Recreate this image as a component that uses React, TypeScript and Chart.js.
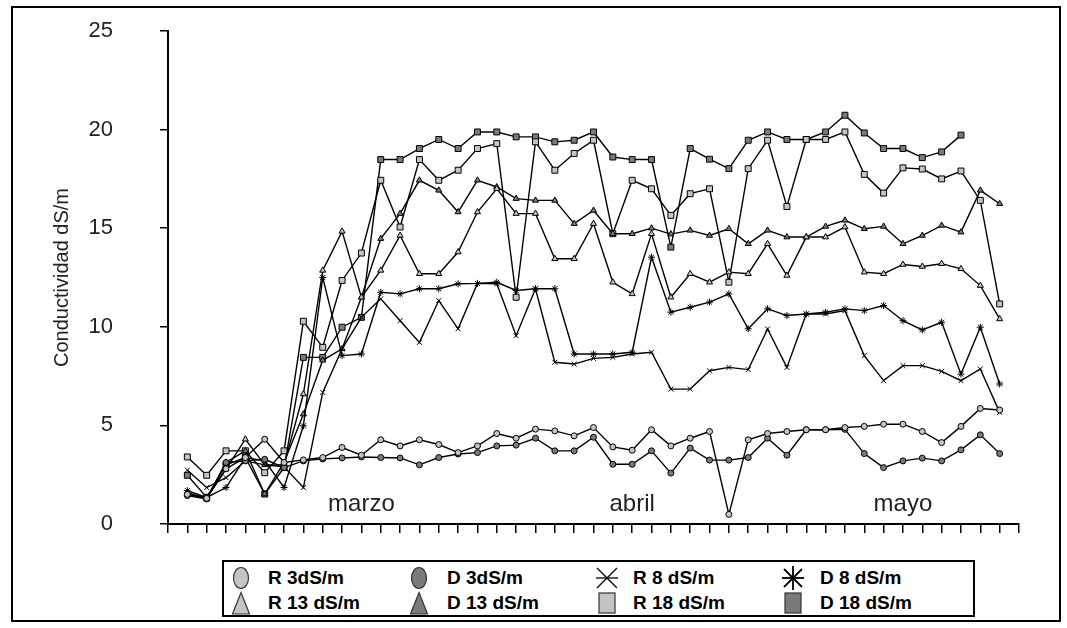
import React, { useEffect, useRef } from 'react';
import { Chart, registerables } from 'chart.js';

Chart.register(...registerables);

const FONT = "'Liberation Sans', Arial, sans-serif";

const monthNames = ['marzo', 'abril', 'mayo'];
const monthCategoryIndex = [10, 24, 38];
const sampleCount = 43;

const seriesNames = ['R 3dS/m', 'D 3dS/m', 'R 8 dS/m', 'D 8 dS/m', 'R 13 dS/m', 'D 13 dS/m', 'R 18 dS/m', 'D 18 dS/m'];

const r3 = [1.5, 1.3, 2.8, 3.37, 4.3, 3.12, 3.25, 3.37, 3.88, 3.49, 4.27, 3.96, 4.27, 4.03, 3.62, 3.96, 4.59, 4.35, 4.81, 4.72, 4.47, 4.89, 3.91, 3.74, 4.78, 3.96, 4.35, 4.69, 0.49, 4.27, 4.59, 4.69, 4.78, 4.78, 4.89, 4.95, 5.06, 5.06, 4.69, 4.13, 4.95, 5.86, 5.78];
const d3 = [1.44, 1.27, 3.12, 3.2, 3.28, 2.86, 3.2, 3.3, 3.35, 3.4, 3.37, 3.35, 3.0, 3.37, 3.55, 3.62, 3.96, 4.0, 4.35, 3.71, 3.71, 4.4, 3.03, 3.03, 3.71, 2.58, 3.85, 3.24, 3.24, 3.37, 4.35, 3.49, 4.78, 4.78, 4.8, 3.57, 2.86, 3.2, 3.34, 3.2, 3.76, 4.52, 3.57];
const r8 = [2.73, 1.85, 2.35, 3.2, 3.0, 2.9, 1.85, 6.67, 8.88, 10.48, 11.42, 10.31, 9.21, 11.33, 9.9, 12.2, 12.18, 9.55, 11.93, 8.2, 8.11, 8.4, 8.45, 8.62, 8.71, 6.84, 6.84, 7.77, 7.94, 7.83, 9.89, 7.94, 10.65, 10.65, 10.82, 8.54, 7.27, 8.03, 8.03, 7.74, 7.27, 7.86, 5.66];
const d8 = [1.69, 1.35, 1.85, 3.37, 3.2, 1.85, 4.98, 12.5, 8.54, 8.62, 11.75, 11.67, 11.93, 11.93, 12.18, 12.2, 12.26, 11.84, 11.93, 11.93, 8.62, 8.62, 8.62, 8.71, 13.53, 10.74, 10.99, 11.25, 11.67, 9.9, 10.91, 10.57, 10.65, 10.74, 10.91, 10.82, 11.08, 10.31, 9.84, 10.23, 7.6, 9.98, 7.1];
const r13 = [1.52, 1.35, 2.78, 4.3, 3.0, 3.0, 6.59, 12.86, 14.84, 11.5, 12.86, 14.63, 12.69, 12.69, 13.79, 15.82, 17.0, 15.74, 15.74, 13.45, 13.45, 15.23, 12.26, 11.67, 14.72, 11.5, 12.69, 12.26, 12.77, 12.69, 14.21, 12.6, 14.55, 14.55, 15.06, 12.77, 12.69, 13.16, 13.06, 13.2, 12.94, 12.09, 10.4];
const d13 = [1.6, 1.27, 3.12, 3.71, 1.52, 3.12, 5.57, 8.3, 8.88, 11.5, 14.47, 15.74, 17.43, 16.92, 15.82, 17.43, 17.09, 16.5, 16.41, 16.41, 15.23, 15.9, 14.72, 14.72, 15.0, 14.7, 14.89, 14.63, 14.97, 14.21, 14.89, 14.55, 14.55, 15.09, 15.4, 14.97, 15.09, 14.21, 14.63, 15.14, 14.8, 16.92, 16.24];
const r18 = [3.4, 2.47, 3.71, 3.71, 2.6, 3.71, 10.28, 8.96, 12.35, 13.74, 17.43, 15.06, 18.48, 17.43, 17.94, 19.04, 19.29, 11.5, 19.38, 17.94, 18.79, 19.46, 14.72, 17.43, 17.0, 15.65, 16.75, 17.0, 12.26, 18.02, 19.46, 16.1, 19.5, 19.5, 19.88, 17.73, 16.78, 18.06, 18.0, 17.5, 17.9, 16.41, 11.16];
const d18 = [2.47, 1.35, 3.0, 3.37, 1.52, 2.86, 8.45, 8.45, 9.98, 10.48, 18.48, 18.48, 19.04, 19.5, 19.04, 19.88, 19.88, 19.63, 19.63, 19.38, 19.46, 19.88, 18.61, 18.48, 18.48, 14.04, 19.04, 18.5, 18.02, 19.46, 19.88, 19.5, 19.5, 19.88, 20.73, 19.83, 19.04, 19.04, 18.58, 18.87, 19.72, null, null];

const seriesValues = [r3, d3, r8, d8, r13, d13, r18, d18];

const LIGHT = '#c4c4c4';
const DARK = '#7a7a7a';
const markerKinds = ['circle', 'circle', 'cross', 'star', 'triangle', 'triangle', 'square', 'square'];
const markerFills = [LIGHT, DARK, '#000', '#000', LIGHT, DARK, LIGHT, DARK];
const pointStyles = ['circle', 'circle', 'crossRot', 'star', 'triangle', 'triangle', 'rect', 'rect'];
const pointRadii = [3, 3, 3.5, 3.5, 3.5, 3.5, 4.2, 4.2];

function LegendMarker({ kind, fill }: { kind: string; fill: string }) {
  const stroke = '#333';
  let shape: React.ReactNode = null;
  if (kind === 'circle') shape = <ellipse cx={12} cy={12} rx={7.5} ry={10.5} fill={fill} stroke={stroke} strokeWidth={1.2} />;
  if (kind === 'triangle') shape = <polygon points="12,1.5 20.5,23 3.5,23" fill={fill} stroke={stroke} strokeWidth={1.2} />;
  if (kind === 'square') shape = <rect x={4} y={2} width={16} height={20} fill={fill} stroke={stroke} strokeWidth={1.2} />;
  if (kind === 'cross')
    shape = (
      <g stroke="#111" strokeWidth={1.4}>
        <line x1={2} y1={2} x2={22} y2={22} />
        <line x1={22} y1={2} x2={2} y2={22} />
        <line x1={1} y1={12} x2={23} y2={12} />
      </g>
    );
  if (kind === 'star')
    shape = (
      <g stroke="#000" strokeWidth={1.8}>
        <line x1={3} y1={3} x2={21} y2={21} />
        <line x1={21} y1={3} x2={3} y2={21} />
        <line x1={12} y1={0} x2={12} y2={24} />
        <line x1={1} y1={12} x2={23} y2={12} />
      </g>
    );
  return (
    <svg width={24} height={24} viewBox="0 0 24 24" style={{ display: 'block' }}>
      {shape}
    </svg>
  );
}

const legendMarkerX = [241, 419, 607, 793];
const legendTextX = [268, 447, 633, 820];
const legendRowY = [578, 603];

export default function App() {
  const canvasRef = useRef<HTMLCanvasElement | null>(null);

  useEffect(() => {
    document.body.style.margin = '0';
    const canvas = canvasRef.current;
    if (!canvas) return;

    const xLabels = Array.from({ length: sampleCount + 2 }, (_, k) => {
      const m = monthCategoryIndex.indexOf(k);
      return m >= 0 ? monthNames[m] : '';
    });

    const datasets = seriesValues.map((vals, s) => ({
      label: seriesNames[s],
      data: [null, ...vals, null] as (number | null)[],
      borderColor: '#000',
      borderWidth: 1.4,
      tension: 0,
      fill: false,
      pointStyle: pointStyles[s] as any,
      pointRadius: pointRadii[s],
      pointBackgroundColor: markerFills[s],
      pointBorderColor: '#000',
      pointBorderWidth: 1,
      spanGaps: false,
    }));

    const chart = new Chart(canvas, {
      type: 'line',
      data: { labels: xLabels, datasets },
      options: {
        responsive: false,
        animation: false,
        devicePixelRatio: 1,
        layout: { padding: { left: 0, right: 48, top: 31, bottom: 0 } },
        plugins: { legend: { display: false }, tooltip: { enabled: false } },
        scales: {
          x: {
            type: 'category',
            offset: false,
            grid: { display: true, drawOnChartArea: false, drawTicks: true, tickLength: 9, color: '#000', lineWidth: 1.5 },
            border: { display: true, color: '#000', width: 2 },
            ticks: { autoSkip: false, maxRotation: 0, minRotation: 0, mirror: true, padding: 5, color: '#222', font: { family: FONT, size: 24 } },
            afterFit: (scale: any) => {
              scale.height = 104;
              scale.paddingLeft = 0;
              scale.paddingRight = 0;
            },
          },
          y: {
            min: 0,
            max: 25,
            ticks: { stepSize: 5, padding: 47, color: '#222', font: { family: FONT, size: 22 } },
            grid: { drawOnChartArea: false, drawTicks: true, tickLength: 8, color: '#000', lineWidth: 1.5 },
            border: { display: true, color: '#000', width: 2 },
            title: { display: true, text: 'Conductividad dS/m', color: '#222', font: { family: FONT, size: 20 }, padding: { top: 50, bottom: 0 } },
            afterFit: (scale: any) => {
              scale.width = 168;
              scale.paddingTop = 0;
              scale.paddingBottom = 0;
            },
          },
        },
      },
    });
    return () => chart.destroy();
  }, []);

  return (
    <div style={{ position: 'relative', width: 1067, height: 628, background: '#fff', overflow: 'hidden' }}>
      <canvas ref={canvasRef} width={1067} height={628} style={{ position: 'absolute', left: 0, top: 0 }} />
      <div style={{ position: 'absolute', left: 11, top: 6, width: 1046, height: 612, border: '2px solid #000', pointerEvents: 'none' }} />
      <div style={{ position: 'absolute', left: 222, top: 560, width: 749, height: 53, border: '2px solid #000', background: '#fff' }} />
      {seriesNames.map((name, s) => {
        const c = s < 4 ? s : s - 4;
        const r = s < 4 ? 0 : 1;
        return (
          <React.Fragment key={name}>
            <div style={{ position: 'absolute', left: legendMarkerX[c] - 12, top: legendRowY[r] - 12 }}>
              <LegendMarker kind={markerKinds[s]} fill={markerFills[s]} />
            </div>
            <div
              style={{
                position: 'absolute',
                left: legendTextX[c],
                top: legendRowY[r] - 12,
                height: 24,
                lineHeight: '24px',
                fontFamily: FONT,
                fontWeight: 'bold',
                fontSize: 19,
                color: '#000',
                whiteSpace: 'nowrap',
              }}
            >
              {name}
            </div>
          </React.Fragment>
        );
      })}
    </div>
  );
}
